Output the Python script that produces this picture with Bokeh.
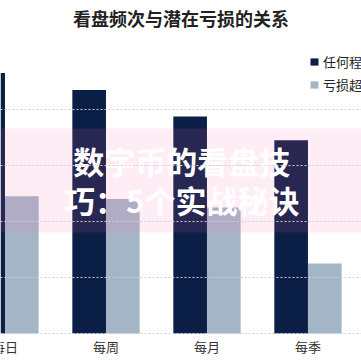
from bokeh.plotting import figure
from bokeh.models import (Range1d, FixedTicker, BoxAnnotation, Label, Legend,
                          LegendItem, ColumnDataSource)
from bokeh.core.properties import value
from bokeh.transform import dodge
from bokeh.embed import file_html
from bokeh.resources import INLINE

categories = ["每日", "每周", "每月", "每季"]
any_loss = [93, 87, 77.5, 69]
big_loss = [49, 48, 45, 25]
series_names = ["任何程度亏损", "亏损超过20%"]
title_text = "看盘频次与潜在亏损的关系"
watermark_lines = ["数字币的看盘技", "巧：5个实战秘诀"]
grid_values = [0, 20, 40, 60, 80]

DARK = "#0b1e45"
LIGHT = "#a4b5c5"
FONT = "Noto Sans CJK SC"

x = list(range(len(categories)))
src = ColumnDataSource(dict(x=x, any_loss=any_loss, big_loss=big_loss,
                            cat=categories, label_y=[-4.6] * len(categories)))

# frame fills the whole canvas; y = 0 sits at 333 px, 2.8 px per unit
p = figure(width=361, height=361, output_backend="svg", toolbar_location=None,
           x_range=Range1d(-0.0446, 3.53), y_range=Range1d(-10.0, 118.93),
           min_border=0)
p.outline_line_color = None
p.background_fill_color = "white"
p.xaxis.visible = False
p.yaxis.visible = False
p.xgrid.visible = False

r1 = p.vbar(x=dodge("x", -0.1667, range=p.x_range), top="any_loss", bottom=0,
            width=0.333, source=src, fill_color=DARK, line_color=None)
r2 = p.vbar(x=dodge("x", 0.1667, range=p.x_range), top="big_loss", bottom=0,
            width=0.333, source=src, fill_color=LIGHT, line_color=None)

p.ygrid.ticker = FixedTicker(ticks=grid_values)
p.ygrid.grid_line_color = "#c9ced8"
p.ygrid.grid_line_dash = "2 2"
p.ygrid.grid_line_width = 1
p.ygrid.level = "overlay"

# category labels under the bars
p.text(x="x", y="label_y", text="cat", source=src, text_align="center",
       text_baseline="middle", text_font=value(FONT), text_font_size="13px",
       text_color="#333333")

# title
p.add_layout(Label(x=180.5, y=344, x_units="screen", y_units="screen",
                   text=title_text, text_align="center", text_baseline="middle",
                   text_font=FONT, text_font_size="18px", text_font_style="bold",
                   text_color="#222222"))

legend = Legend(items=[LegendItem(label=series_names[0], renderers=[r1]),
                       LegendItem(label=series_names[1], renderers=[r2])],
                location=(309, 267), padding=0, margin=0,
                border_line_color=None, background_fill_alpha=0,
                glyph_width=10, glyph_height=9, label_height=18, spacing=4,
                label_standoff=4, label_text_font=FONT,
                label_text_font_size="13px", label_text_color="#222222")
p.add_layout(legend)

band = BoxAnnotation(bottom=36.07, top=73.2, fill_color="#ff69b4", fill_alpha=0.12,
                     line_color=None)
p.add_layout(band)

for txt, yv in zip(watermark_lines, [61.8, 47.9]):
    p.add_layout(Label(x=1.75, y=yv, text=txt, text_align="center",
                       text_baseline="middle", text_color="white",
                       text_font=FONT, text_font_size="31px",
                       text_font_style="bold"))

open("out.html", "w").write(file_html(p, INLINE))
